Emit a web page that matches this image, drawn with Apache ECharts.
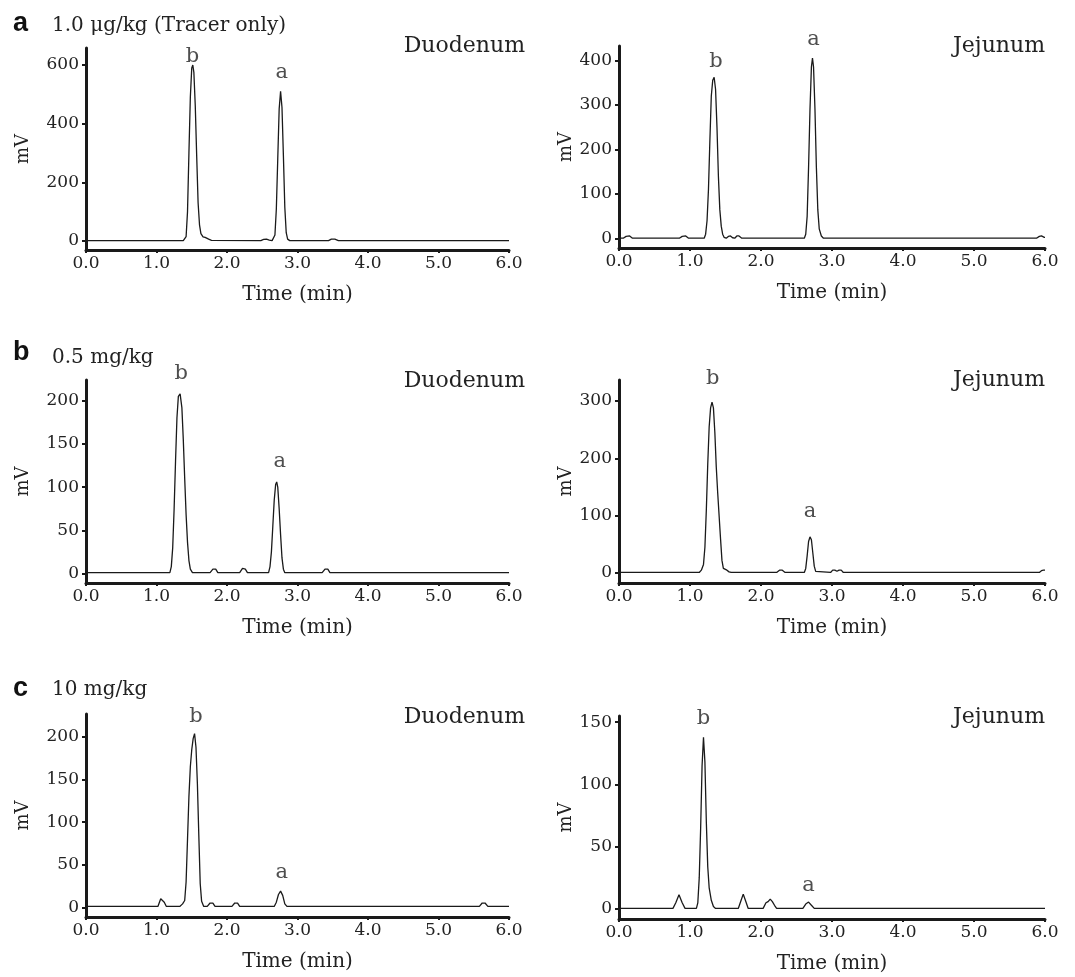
<!DOCTYPE html>
<html>
<head>
<meta charset="utf-8">
<script src="https://cdn.jsdelivr.net/npm/echarts@6/dist/echarts.min.js"></script>
<style>
html,body{margin:0;padding:0;background:#fff;}
#chart{width:1075px;height:977px;}
</style>
</head>
<body>
<div id="chart"></div>
<script>
// ---------- Data (time in min, signal in mV) ----------
const xTickLabels = ['0.0','1.0','2.0','3.0','4.0','5.0','6.0'];
const rowTitles = ['1.0 μg/kg (Tracer only)', '0.5 mg/kg', '10 mg/kg'];
const rowLetters = ['a', 'b', 'c'];
const tissues = ['Duodenum', 'Jejunum'];

const duoA = [[0,1],[1.38,1],[1.40,2],[1.42,15],[1.44,100],[1.46,300],[1.48,490],[1.50,590],[1.515,600],[1.53,575],[1.55,460],[1.57,290],[1.59,130],[1.61,55],[1.63,25],[1.66,14],[1.69,12],[1.71,12],[1.74,6],[1.78,2],[1.80,1],
  [2.48,1],[2.52,5],[2.56,6],[2.60,3],[2.64,1],[2.66,2],[2.68,20],[2.70,110],[2.72,280],[2.74,450],[2.76,510],[2.78,455],[2.80,290],[2.82,115],[2.84,28],[2.86,6],[2.89,1],
  [3.44,1],[3.48,6],[3.53,6],[3.58,1],[6.0,1]];
const jejA = [[0,1],[0.06,1],[0.10,5],[0.15,6],[0.19,1],[0.85,1],[0.89,5],[0.94,6],[0.98,1],
  [1.20,1],[1.22,10],[1.24,40],[1.26,110],[1.28,220],[1.30,320],[1.32,355],[1.34,362],[1.36,335],[1.38,250],[1.40,140],[1.42,65],[1.44,28],[1.46,10],[1.48,3],[1.51,1],
  [1.54,5],[1.57,6],[1.60,2],[1.63,1],[1.66,6],[1.69,6],[1.73,1],
  [2.61,1],[2.63,10],[2.65,50],[2.67,160],[2.69,290],[2.71,385],[2.725,405],[2.74,385],[2.76,290],[2.78,160],[2.80,65],[2.82,22],[2.85,6],[2.88,1],
  [5.88,1],[5.92,5],[5.95,6],[5.99,3],[6.0,3]];
const duoB = [[0,1],[1.19,1],[1.21,8],[1.23,30],[1.25,75],[1.27,130],[1.29,180],[1.31,205],[1.335,208],[1.36,192],[1.38,155],[1.40,110],[1.42,68],[1.44,36],[1.46,15],[1.48,5],[1.51,1],
  [1.76,1],[1.80,5],[1.84,5],[1.87,1],[2.18,1],[2.22,6],[2.26,5],[2.29,1],
  [2.59,1],[2.61,8],[2.63,25],[2.65,55],[2.67,85],[2.69,103],[2.705,106],[2.72,100],[2.74,75],[2.76,45],[2.78,18],[2.80,5],[2.82,1],
  [3.35,1],[3.39,5],[3.43,5],[3.46,1],[6.0,1]];
const jejB = [[0,1],[1.13,1],[1.16,5],[1.19,15],[1.21,45],[1.23,110],[1.25,190],[1.27,255],[1.29,288],[1.31,298],[1.33,288],[1.35,245],[1.37,185],[1.39,140],[1.41,100],[1.43,60],[1.45,22],[1.47,8],[1.49,5],[1.52,5],[1.55,2],[1.58,1],
  [2.22,1],[2.26,5],[2.30,5],[2.34,1],
  [2.61,1],[2.63,8],[2.65,30],[2.67,55],[2.69,63],[2.71,58],[2.73,35],[2.75,12],[2.77,3],[2.79,1],
  [2.98,1],[3.01,5],[3.04,5],[3.07,3],[3.10,5],[3.13,5],[3.16,1],
  [5.92,1],[5.95,4],[5.98,5],[6.0,5]];
const duoC = [[0,1],[1.02,1],[1.06,10],[1.08,12],[1.11,6],[1.14,1],
  [1.33,1],[1.37,4],[1.40,8],[1.42,30],[1.44,80],[1.46,130],[1.48,165],[1.50,185],[1.52,198],[1.54,204],[1.56,188],[1.58,145],[1.60,85],[1.62,28],[1.64,7],[1.67,1],
  [1.72,1],[1.76,5],[1.80,5],[1.83,1],[2.07,1],[2.11,5],[2.15,5],[2.18,1],
  [2.67,1],[2.70,6],[2.73,15],[2.76,19],[2.79,14],[2.82,4],[2.85,1],
  [5.58,1],[5.62,5],[5.66,5],[5.70,1],[6.0,1]];
const jejC = [[0,0.5],[0.76,0.5],[0.80,5],[0.845,11.5],[0.89,5],[0.93,0.5],
  [1.09,0.5],[1.11,5],[1.13,25],[1.15,65],[1.17,115],[1.19,138],[1.21,118],[1.23,70],[1.25,34],[1.27,17],[1.30,7],[1.33,2],[1.36,0.5],
  [1.68,0.5],[1.72,7],[1.75,12],[1.78,7],[1.82,0.5],
  [2.03,0.5],[2.07,5],[2.10,6],[2.13,8],[2.16,6],[2.19,3],[2.22,0.5],
  [2.59,0.5],[2.63,4],[2.67,5.6],[2.71,3],[2.75,0.5],[6.0,0.5]];

const yTicksDuoA = [0,200,400,600];
const yTicksJejA = [0,100,200,300,400];
const yTicksDuoB = [0,50,100,150,200];
const yTicksJejB = [0,100,200,300];
const yTicksDuoC = [0,50,100,150,200];
const yTicksJejC = [0,50,100,150];

// peak labels: [text, time, mV at label baseline]
const peaksDuoA = [['b',1.51,607],['a',2.775,552]];
const peaksJejA = [['b',1.366,382],['a',2.74,433]];
const peaksDuoB = [['b',1.35,224],['a',2.75,122]];
const peaksJejB = [['b',1.32,328],['a',2.69,96]];
const peaksDuoC = [['b',1.56,216],['a',2.775,33]];
const peaksJejC = [['b',1.19,148],['a',2.67,14]];

// ---------- Layout ----------
const SERIF = 'DejaVu Serif';
const INK = '#1a1a1a';
const panels = [
  {data:duoA, ticks:yTicksDuoA, peaks:peaksDuoA, min:-31, max:658, grid:{left:86, top:48, width:423, height:202}, nameGap:54},
  {data:jejA, ticks:yTicksJejA, peaks:peaksJejA, min:-21, max:432, grid:{left:619, top:46, width:426, height:202}, nameGap:44},
  {data:duoB, ticks:yTicksDuoB, peaks:peaksDuoB, min:-11, max:224, grid:{left:86, top:380, width:423, height:203}, nameGap:54},
  {data:jejB, ticks:yTicksJejB, peaks:peaksJejB, min:-17.4, max:336.6, grid:{left:619, top:380, width:426, height:203}, nameGap:44},
  {data:duoC, ticks:yTicksDuoC, peaks:peaksDuoC, min:-11.4, max:227, grid:{left:86, top:714, width:423, height:203}, nameGap:54},
  {data:jejC, ticks:yTicksJejC, peaks:peaksJejC, min:-8, max:155, grid:{left:619, top:716, width:426, height:203}, nameGap:44}
];

const grid = [], xAxis = [], yAxis = [], series = [];
panels.forEach((p, i) => {
  grid.push(Object.assign({containLabel:false}, p.grid));
  xAxis.push({
    gridIndex:i, type:'value', min:0, max:6, interval:1,
    axisLine:{onZero:false, lineStyle:{color:INK, width:3}},
    axisTick:{show:true, length:3, lineStyle:{color:INK, width:2}},
    axisLabel:{margin:5, fontFamily:SERIF, fontSize:17, color:'#222', formatter:(v)=>xTickLabels[Math.round(v)]},
    splitLine:{show:false},
    name:'Time (min)', nameLocation:'middle', nameGap:35,
    nameTextStyle:{fontFamily:SERIF, fontSize:20, color:'#222'}
  });
  yAxis.push({
    gridIndex:i, type:'value', min:p.min, max:p.max,
    axisLine:{show:true, onZero:false, lineStyle:{color:INK, width:3}},
    axisTick:{show:true, customValues:p.ticks, length:4, lineStyle:{color:INK, width:2}},
    axisLabel:{customValues:p.ticks, margin:7, fontFamily:SERIF, fontSize:17, color:'#222'},
    splitLine:{show:false},
    name:'mV', nameLocation:'middle', nameRotate:90, nameGap:p.nameGap,
    nameTextStyle:{fontFamily:SERIF, fontSize:18, color:'#222'}
  });
  series.push({
    type:'line', xAxisIndex:i, yAxisIndex:i, data:p.data,
    showSymbol:false, symbol:'none', silent:true,
    lineStyle:{color:INK, width:1.3}
  });
  series.push({
    type:'scatter', xAxisIndex:i, yAxisIndex:i, silent:true, clip:false,
    data:p.peaks.map(pk => ({name:pk[0], value:[pk[1], pk[2]]})),
    symbolSize:0,
    label:{show:true, position:'top', distance:-4, formatter:'{b}', fontFamily:SERIF, fontSize:21, color:'#222'}
  });
});

const title = [];
const letterTops = [10, 339, 675];
const rowTitleTops = [15, 347, 679];
const tissueTops = [[35, 35], [370, 369], [706, 706]];
rowLetters.forEach((l, r) => {
  title.push({text:l, left:13, top:letterTops[r], padding:0,
    textStyle:{fontFamily:'Liberation Sans', fontWeight:'bold', fontSize:27, color:'#111', lineHeight:27}});
  title.push({text:rowTitles[r], left:52, top:rowTitleTops[r], padding:0,
    textStyle:{fontFamily:SERIF, fontWeight:'normal', fontSize:20, color:'#222', lineHeight:21}});
  title.push({text:tissues[0], right:550, top:tissueTops[r][0], padding:0,
    textStyle:{fontFamily:SERIF, fontWeight:'normal', fontSize:22, color:'#222', lineHeight:22}});
  title.push({text:tissues[1], right:30, top:tissueTops[r][1], padding:0,
    textStyle:{fontFamily:SERIF, fontWeight:'normal', fontSize:22, color:'#222', lineHeight:22}});
});

const chart = echarts.init(document.getElementById('chart'), null, {renderer:'canvas'});
chart.setOption({
  animation:false,
  backgroundColor:'#fff',
  title, grid, xAxis, yAxis, series
});
</script>
</body>
</html>
